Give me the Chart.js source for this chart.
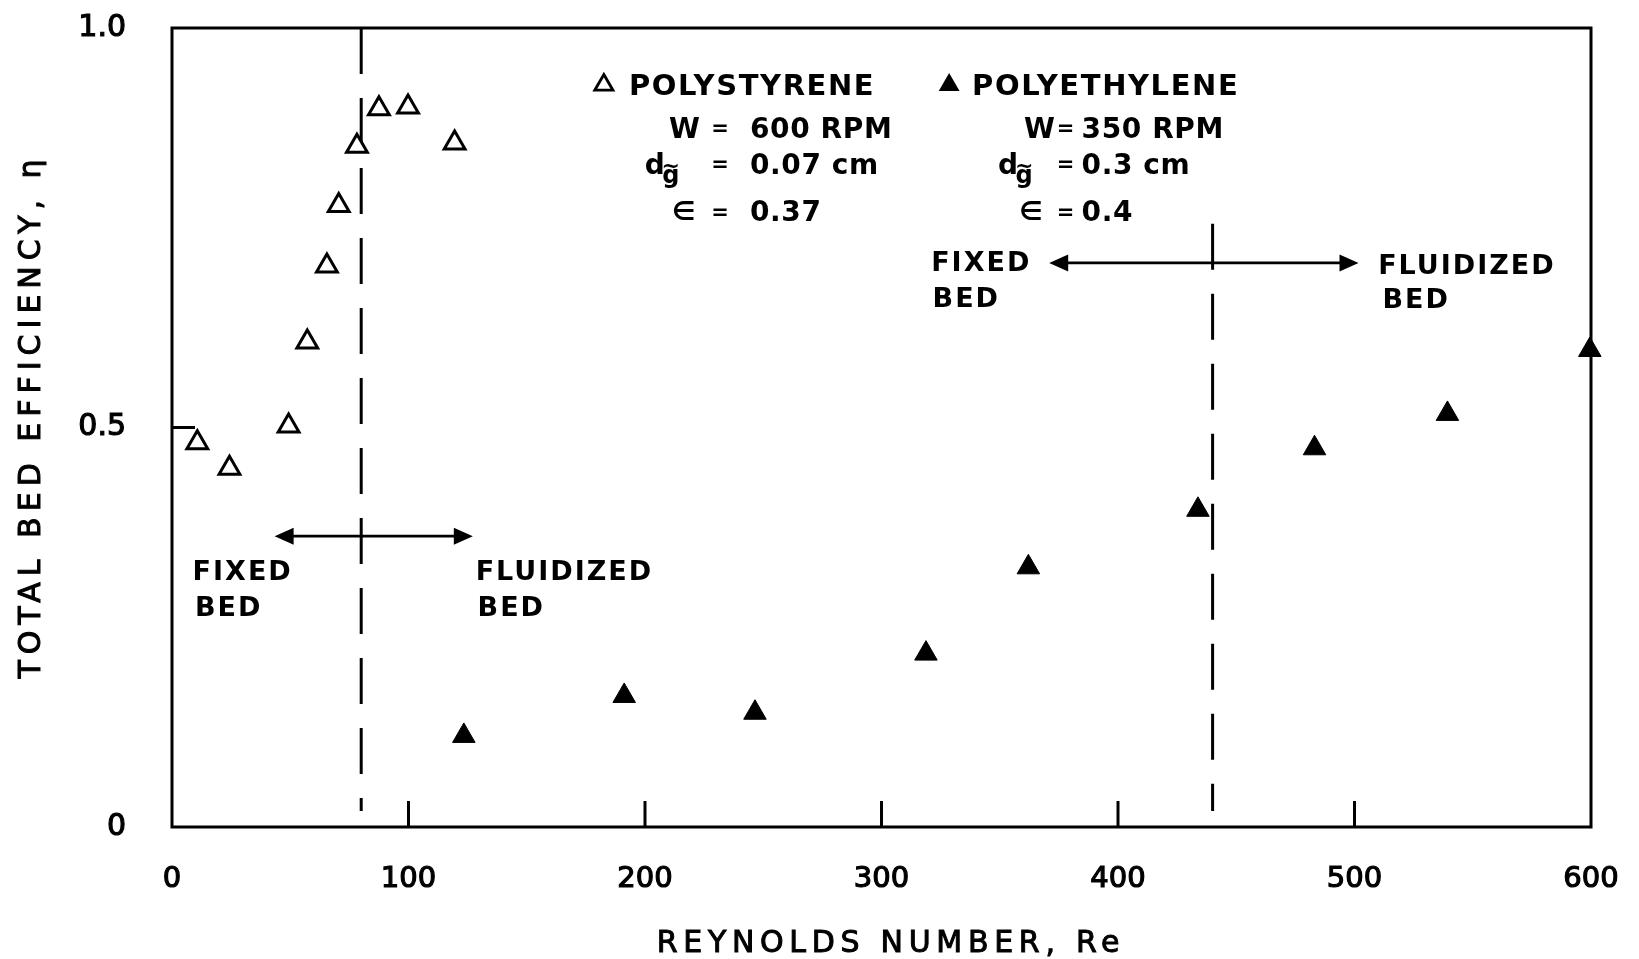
<!DOCTYPE html>
<html>
<head>
<meta charset="utf-8">
<script src="https://cdn.jsdelivr.net/npm/chart.js@4.4.1/dist/chart.umd.min.js"></script>
<style>
  html, body { margin: 0; padding: 0; background: #fff; }
  #wrap { width: 1639px; height: 959px; position: relative; }
</style>
</head>
<body>
<div id="wrap"><canvas id="bedChart"></canvas></div>
<script>
// Total bed efficiency vs Reynolds number for the two bed materials
const polystyreneRe  = [10.7, 24.3, 49.3, 57.2, 65.5, 70.5, 78.2, 87.5, 99.8, 119.5];
const polystyreneEff = [0.481, 0.449, 0.502, 0.607, 0.702, 0.778, 0.852, 0.899, 0.901, 0.856];
const polyethyleneRe  = [123.4, 191.2, 246.5, 318.8, 362.1, 433.8, 483.1, 539.3, 599.5];
const polyethyleneEff = [0.114, 0.164, 0.143, 0.217, 0.325, 0.397, 0.474, 0.517, 0.597];

// axis ticks
const reTicks = [0, 100, 200, 300, 400, 500, 600];
const effTicks = [0, 0.5, 1.0];
const effTickLabels = ['0', '0.5', '1.0'];

// fixed -> fluidized bed transition (Re) and the span of each transition line
const transitionRe = [80, 440];
const transitionTop = [1.0, 0.755];
const transitionBottom = [0.02, 0.02];

const FONT = "'DejaVu Sans', sans-serif";

function toPoints(xs, ys) {
  return xs.map((x, i) => ({ x: x, y: ys[i] }));
}

// text drawn with its cap height centred on y; stroke > 0 thickens the letters
function capText(ctx, text, x, y, size, weight, spacing, align, stroke) {
  ctx.font = weight + ' ' + size + 'px ' + FONT;
  ctx.letterSpacing = spacing + 'px';
  ctx.textAlign = align || 'left';
  ctx.textBaseline = 'alphabetic';
  const by = y + size * 0.3645;
  ctx.fillText(text, x, by);
  if (stroke) {
    ctx.lineWidth = stroke;
    ctx.strokeText(text, x, by);
  }
}

function arrowHead(ctx, x, y, dir) {
  ctx.beginPath();
  ctx.moveTo(x, y);
  ctx.lineTo(x - dir * 19, y - 8.5);
  ctx.lineTo(x - dir * 19, y + 8.5);
  ctx.closePath();
  ctx.fill();
}

function doubleArrow(ctx, x1, x2, y) {
  ctx.lineWidth = 2.8;
  ctx.beginPath();
  ctx.moveTo(x1 + 10, y);
  ctx.lineTo(x2 - 10, y);
  ctx.stroke();
  arrowHead(ctx, x1, y, -1);
  arrowHead(ctx, x2, y, 1);
}

function legendTriangle(ctx, x, y, r, filled) {
  ctx.beginPath();
  ctx.moveTo(x, y - r);
  ctx.lineTo(x + r * 0.866, y + r / 2);
  ctx.lineTo(x - r * 0.866, y + r / 2);
  ctx.closePath();
  if (filled) {
    ctx.fill();
  } else {
    ctx.lineWidth = 2.8;
    ctx.stroke();
  }
}

const bedAnnotations = {
  id: 'bedAnnotations',
  beforeDatasetsDraw(chart) {
    const { ctx, chartArea: a, scales: { x, y } } = chart;
    ctx.save();
    ctx.strokeStyle = '#000';
    ctx.lineWidth = 3;
    ctx.strokeRect(a.left, a.top, a.right - a.left, a.bottom - a.top);
    // inward tick marks
    x.ticks.forEach(t => {
      if (t.value <= x.min || t.value >= x.max) return;
      const px = x.getPixelForValue(t.value);
      ctx.beginPath();
      ctx.moveTo(px, a.bottom);
      ctx.lineTo(px, a.bottom - 26);
      ctx.stroke();
    });
    y.ticks.forEach(t => {
      if (t.value <= y.min || t.value >= y.max) return;
      const py = y.getPixelForValue(t.value);
      ctx.beginPath();
      ctx.moveTo(a.left, py);
      ctx.lineTo(a.left + 23, py);
      ctx.stroke();
    });
    ctx.restore();
  },
  afterDraw(chart) {
    const { ctx, scales: { x, y } } = chart;
    const X = v => x.getPixelForValue(v);
    const Y = v => y.getPixelForValue(v);
    ctx.save();
    ctx.fillStyle = '#000';
    ctx.strokeStyle = '#000';

    // axis titles
    capText(ctx, 'REYNOLDS NUMBER, Re', X(304), 941, 30, 'normal', 5.7, 'center', 1);
    ctx.save();
    ctx.translate(29, 416);
    ctx.rotate(-Math.PI / 2);
    capText(ctx, 'TOTAL BED EFFICIENCY, η', 0, 0, 30, 'normal', 6, 'center', 1);
    ctx.restore();

    // regime arrows
    doubleArrow(ctx, X(43.4), X(127.2), Y(0.364));
    doubleArrow(ctx, X(370.9), X(501.7), Y(0.706));

    // regime labels
    capText(ctx, 'FIXED', X(8.7), Y(0.322), 27, 'bold', 2);
    capText(ctx, 'BED', X(9.7), Y(0.277), 27, 'bold', 2);
    capText(ctx, 'FLUIDIZED', X(128.4), Y(0.322), 27, 'bold', 2);
    capText(ctx, 'BED', X(129.2), Y(0.277), 27, 'bold', 2);
    capText(ctx, 'FIXED', X(321), Y(0.708), 27, 'bold', 2);
    capText(ctx, 'BED', X(321.6), Y(0.663), 27, 'bold', 2);
    capText(ctx, 'FLUIDIZED', X(510), Y(0.705), 27, 'bold', 2);
    capText(ctx, 'BED', X(511.8), Y(0.662), 27, 'bold', 2);

    // material key with operating conditions
    const rowTitle = Y(0.930), rowW = Y(0.8755), rowD = Y(0.830), rowE = Y(0.771);
    const cols = [
      { tri: 182.6, name: 193.2, filled: false, title: 'POLYSTYRENE',
        w: 210.1, d: 199.9, e: 211.4, eq: 231.7, val: 244.4,
        vals: ['600 RPM', '0.07 cm', '0.37'] },
      { tri: 328.6, name: 338.3, filled: true, title: 'POLYETHYLENE',
        w: 360.3, d: 349.3, e: 358.2, eq: 377.8, val: 384.6,
        vals: ['350 RPM', '0.3 cm', '0.4'] }
    ];
    cols.forEach(c => {
      legendTriangle(ctx, X(c.tri), rowTitle + 1, c.filled ? 12 : 10.5, c.filled);
      capText(ctx, c.title, X(c.name), rowTitle, 29, 'bold', 1.6);
      capText(ctx, 'W', X(c.w), rowW, 28, 'bold', 0.5);
      capText(ctx, 'd', X(c.d), rowD, 28, 'bold', 0.5);
      capText(ctx, '~', X(c.d) + 26, rowD + 1, 22, 'bold', 0, 'center');
      ctx.font = 'bold 24px ' + FONT;
      ctx.textAlign = 'center';
      ctx.letterSpacing = '0px';
      ctx.fillText('g', X(c.d) + 26, rowD + 19);
      capText(ctx, '∈', X(c.e), rowE, 26, 'bold', 0);
      [rowW, rowD, rowE].forEach((r, i) => {
        capText(ctx, '=', X(c.eq), r, 21, 'bold', 0, 'center');
        capText(ctx, c.vals[i], X(c.val), r, 28, 'bold', 0.6);
      });
    });
    ctx.restore();
  }
};

const transitionLine = i => ({
  label: 'transition ' + (i + 1),
  data: [{ x: transitionRe[i], y: transitionTop[i] }, { x: transitionRe[i], y: transitionBottom[i] }],
  showLine: true,
  pointRadius: 0,
  borderColor: '#000',
  borderWidth: 3,
  borderDash: [46, 24],
  order: 2
});

// keep the plot frame where the layout padding puts it
const noScalePadding = s => {
  s.paddingTop = 0;
  s.paddingBottom = 0;
  s.paddingLeft = 0;
  s.paddingRight = 0;
};

new Chart(document.getElementById('bedChart'), {
  type: 'scatter',
  data: {
    datasets: [
      {
        label: 'POLYSTYRENE',
        data: toPoints(polystyreneRe, polystyreneEff),
        pointStyle: 'triangle',
        pointRadius: 12,
        pointBorderWidth: 3,
        borderColor: '#000',
        backgroundColor: '#fff',
        clip: false,
        order: 0
      },
      {
        label: 'POLYETHYLENE',
        data: toPoints(polyethyleneRe, polyethyleneEff),
        pointStyle: 'triangle',
        pointRadius: 13,
        pointBorderWidth: 1,
        borderColor: '#000',
        backgroundColor: '#000',
        clip: false,
        order: 0
      },
      transitionLine(0),
      transitionLine(1)
    ]
  },
  options: {
    responsive: true,
    maintainAspectRatio: false,
    animation: false,
    events: [],
    layout: { padding: { top: 28, right: 48, left: 0, bottom: 0 } },
    plugins: {
      legend: { display: false },
      tooltip: { enabled: false }
    },
    scales: {
      x: {
        type: 'linear',
        min: 0,
        max: 600,
        afterBuildTicks: s => { s.ticks = reTicks.map(v => ({ value: v })); },
        afterFit: s => { s.height = 132; noScalePadding(s); },
        grid: { display: false, drawTicks: false },
        border: { display: false },
        ticks: {
          color: '#000',
          font: { family: FONT, size: 29 },
          textStrokeColor: '#000',
          textStrokeWidth: 1.2,
          padding: 35,
          maxRotation: 0,
          autoSkip: false
        }
      },
      y: {
        type: 'linear',
        min: 0,
        max: 1,
        afterBuildTicks: s => { s.ticks = effTicks.map(v => ({ value: v })); },
        afterFit: s => { s.width = 172; noScalePadding(s); },
        grid: { display: false, drawTicks: false },
        border: { display: false },
        ticks: {
          color: '#000',
          font: { family: FONT, size: 30 },
          textStrokeColor: '#000',
          textStrokeWidth: 1.2,
          padding: 46,
          callback: v => effTickLabels[effTicks.indexOf(v)]
        }
      }
    }
  },
  plugins: [bedAnnotations]
});
</script>
</body>
</html>
